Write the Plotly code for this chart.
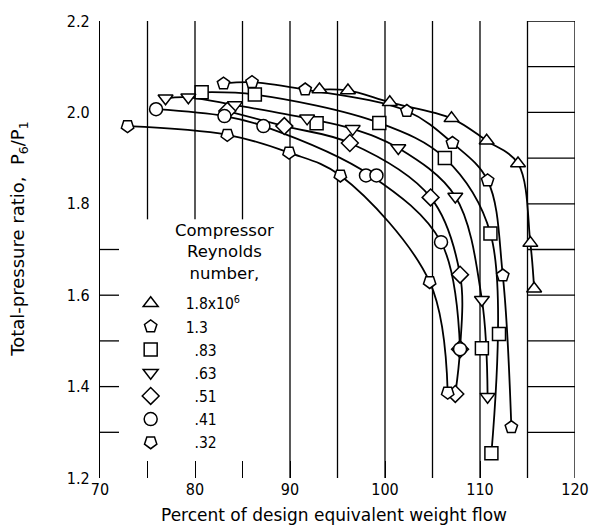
import plotly.graph_objects as go

FONT = "DejaVu Sans Condensed"
FONT_WIDE = "DejaVu Sans"

# ---- data ----
names = ["1.8x10<sup>6</sup>", "1.3", "\u2007.83", "\u2007.63", "\u2007.51", "\u2007.41", "\u2007.32"]
symbols = ["triangle-up", "pentagon", "square", "triangle-down", "diamond", "circle", "pentagon"]
angles = [0, 0, 0, 0, 0, 0, 180]

# measured points
re18_x = [93.1, 96.1, 100.5, 107.0, 110.7, 114.0, 115.3, 115.7]
re18_y = [2.050, 2.048, 2.022, 1.987, 1.938, 1.888, 1.714, 1.614]
re13_x = [83.0, 86.0, 91.6, 102.3, 107.1, 110.8, 112.4, 113.3]
re13_y = [2.063, 2.066, 2.050, 2.003, 1.933, 1.851, 1.643, 1.311]
re083_x = [80.7, 86.3, 92.8, 99.4, 106.3, 111.1, 112.0, 110.2, 111.2]
re083_y = [2.044, 2.039, 1.976, 1.977, 1.900, 1.735, 1.515, 1.484, 1.254]
re063_x = [76.9, 79.3, 84.2, 91.8, 96.6, 101.4, 107.4, 110.2, 110.8]
re063_y = [2.031, 2.033, 2.016, 1.987, 1.964, 1.922, 1.816, 1.590, 1.378]
re051_x = [83.4, 89.4, 96.3, 104.8, 107.9, 107.9, 107.4]
re051_y = [2.003, 1.970, 1.933, 1.814, 1.645, 1.482, 1.384]
re041_x = [75.9, 83.1, 87.2, 98.0, 99.1, 105.9, 107.9]
re041_y = [2.007, 1.992, 1.970, 1.862, 1.862, 1.716, 1.482]
re032_x = [72.9, 83.4, 89.9, 95.3, 104.7, 106.6]
re032_y = [1.970, 1.951, 1.912, 1.862, 1.629, 1.387]

# faired curves
c18_x = [93.1, 96.1, 100.5, 107.0, 110.7, 114.0, 115.3, 115.7]
c18_y = [2.050, 2.048, 2.022, 1.987, 1.938, 1.888, 1.714, 1.614]
c13_x = [83.0, 86.0, 91.6, 102.3, 107.1, 110.8, 112.4, 113.3]
c13_y = [2.063, 2.066, 2.050, 2.003, 1.933, 1.851, 1.643, 1.311]
c083_x = [80.7, 86.3, 99.4, 106.3, 111.1, 111.2]
c083_y = [2.044, 2.039, 1.977, 1.900, 1.735, 1.254]
c063_x = [76.9, 79.3, 84.2, 91.8, 96.6, 101.4, 107.4, 110.2, 110.8]
c063_y = [2.031, 2.033, 2.016, 1.987, 1.964, 1.922, 1.816, 1.590, 1.378]
c051_x = [83.4, 89.4, 96.3, 104.8, 107.9, 107.9, 107.4]
c051_y = [2.003, 1.970, 1.933, 1.814, 1.645, 1.482, 1.384]
c041_x = [75.9, 83.1, 87.2, 98.5, 105.9, 107.9]
c041_y = [2.007, 1.992, 1.970, 1.862, 1.716, 1.482]
c032_x = [72.9, 83.4, 89.9, 95.3, 104.7, 106.6]
c032_y = [1.970, 1.951, 1.912, 1.862, 1.629, 1.387]

points = [(re18_x, re18_y), (re13_x, re13_y), (re083_x, re083_y), (re063_x, re063_y),
          (re051_x, re051_y), (re041_x, re041_y), (re032_x, re032_y)]
curves = [(c18_x, c18_y), (c13_x, c13_y), (c083_x, c083_y), (c063_x, c063_y),
          (c051_x, c051_y), (c041_x, c041_y), (c032_x, c032_y)]

x_ticks = [70, 80, 90, 100, 110, 120]
y_ticks = [1.2, 1.4, 1.6, 1.8, 2.0, 2.2]
full_grid_x = [90, 95, 100, 105, 110, 115, 120]
part_grid_x = [75, 80, 85]
part_grid_low = 1.766
box_grid_y = [1.3, 1.4, 1.5, 1.6, 1.7, 1.8, 1.9, 2.0, 2.1, 2.2]
left_tick_y = [1.3, 1.4, 1.5, 1.6, 1.7]

fig = go.Figure()

for cx, cy in curves:
    fig.add_trace(go.Scatter(x=cx, y=cy, mode="lines", line=dict(color="black", width=1.8, shape="spline", smoothing=1.0),
                             showlegend=False, hoverinfo="skip"))

for (px, py), nm, sym, ang in zip(points, names, symbols, angles):
    fig.add_trace(go.Scatter(x=px, y=py, mode="markers", name=nm,
                             marker=dict(symbol=sym, angle=ang, size=13, color="white",
                                         line=dict(color="black", width=1.5))))

shapes = []
lw = 1.3
for gx in full_grid_x:
    shapes.append(dict(type="line", xref="x", yref="y", x0=gx, x1=gx, y0=1.2, y1=2.2,
                       line=dict(color="black", width=lw), layer="below"))
for gx in part_grid_x:
    shapes.append(dict(type="line", xref="x", yref="y", x0=gx, x1=gx, y0=part_grid_low, y1=2.2,
                       line=dict(color="black", width=lw), layer="below"))
for gy in box_grid_y:
    shapes.append(dict(type="line", xref="x", yref="y", x0=115, x1=120, y0=gy, y1=gy,
                       line=dict(color="black", width=lw), layer="below"))
for gy in left_tick_y:
    shapes.append(dict(type="line", xref="x", yref="y", x0=70, x1=72, y0=gy, y1=gy,
                       line=dict(color="black", width=lw), layer="below"))

fig.update_layout(
    width=601, height=526,
    margin=dict(l=100, r=16, t=17, b=48),
    paper_bgcolor="white", plot_bgcolor="white",
    font=dict(family=FONT, size=16, color="black"),
    shapes=shapes,
    showlegend=True,
    legend=dict(x=0.033, y=0.4185, xanchor="left", yanchor="top", bgcolor="rgba(0,0,0,0)",
                font=dict(family=FONT, size=15.5), itemwidth=60, tracegroupgap=0),
    xaxis=dict(range=[70, 120], tickmode="array", tickvals=x_ticks, ticktext=[str(v) for v in x_ticks],
               ticks="inside", ticklen=17, tickwidth=lw, tickcolor="black",
               minor=dict(dtick=5, ticks="inside", ticklen=17, tickwidth=lw, tickcolor="black", showgrid=False),
               showgrid=False, zeroline=False, showline=False, tickfont=dict(size=16)),
    yaxis=dict(range=[1.2, 2.2], tickmode="array", tickvals=y_ticks, ticktext=["%.1f" % v for v in y_ticks],
               ticks="", showgrid=False, zeroline=False, showline=True, linecolor="black", linewidth=lw,
               tickfont=dict(size=16), ticklabelstandoff=6),
    annotations=[
        dict(text="Percent of design equivalent weight flow", xref="paper", yref="paper",
             x=0.493, y=-0.080, xanchor="center", yanchor="middle", showarrow=False,
             font=dict(family=FONT_WIDE, size=17)),
        dict(text="Total-pressure ratio,  P<sub>6</sub>/P<sub>1</sub>", xref="paper", yref="paper",
             x=-0.171, y=0.523, xanchor="center", yanchor="middle", textangle=-90, showarrow=False,
             font=dict(family=FONT_WIDE, size=18)),
        dict(text="Compressor<br>Reynolds<br>number,", xref="paper", yref="paper",
             x=0.262, y=0.566, xanchor="center", yanchor="top", showarrow=False, align="center",
             font=dict(family=FONT_WIDE, size=16.5)),
    ],
)

fig.write_html("out.html")
